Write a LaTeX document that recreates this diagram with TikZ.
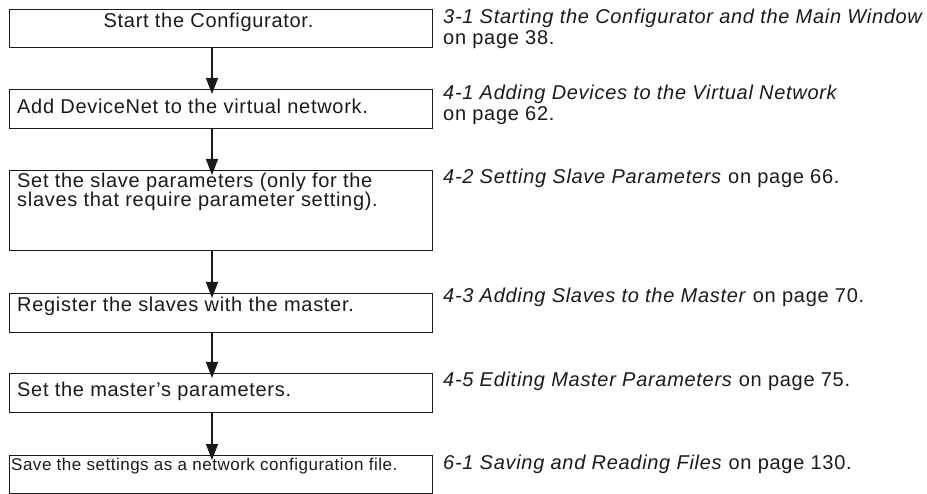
\documentclass[tikz,border=0pt]{standalone}
\usepackage{fontspec}
\setmainfont{Liberation Sans}[LetterSpace=3.5]
\usetikzlibrary{arrows.meta,positioning,calc}
\definecolor{inkblack}{HTML}{1A1A1A}
\tikzset{
  stepbox/.style={draw=inkblack, line width=1.3pt, minimum width=423pt,
    inner sep=0pt, anchor=north west},
  steptext/.style={anchor=base west, inner sep=0pt, align=left,
    font=\fontsize{20}{16}\selectfont, text=inkblack},
  reftext/.style={anchor=base west, inner sep=0pt, align=left,
    font=\fontsize{20}{21.5}\selectfont, text=inkblack},
  flow/.style={-{Triangle[length=16pt, width=12pt]}, line width=1.5pt,
    color=inkblack, shorten >=-5pt},
}

\begin{document}
\begin{tikzpicture}[x=1pt,y=-1pt]
  \useasboundingbox (0,0) rectangle (927,494);
  % the six steps, top edge / height
  \foreach \n/\yt/\h in {1/9/38, 2/89/39, 3/170/80, 4/293/39, 5/373/39, 6/455/38}
    \node[stepbox, minimum height=\h pt] (b\n) at (9,\yt) {};
  % texts inside the steps (base = last line)
  \node[steptext, anchor=base] (t1) at (208.5,28) {Start the Configurator.};
  \node[steptext] (t2) at (17,114) {Add DeviceNet to the virtual network.};
  \node[steptext] (t3) at (17,207) {Set the slave parameters (only for the\\slaves that require parameter setting).};
  \node[steptext] (t4) at (17,312) {Register the slaves with the master.};
  \node[steptext] (t5) at (17,397) {Set the master's parameters.};
  \node[steptext, font=\fontsize{17}{20}\selectfont\addfontfeature{LetterSpace=3}] (t6) at (11,471)
    {Save the settings as a network configuration file.};
  % arrows down the spine
  \coordinate (spine) at (212,0);
  \foreach \a/\b in {1/2, 2/3, 3/4, 4/5, 5/6}
    \draw[flow] (b\a.south -| spine) -- (b\b.north -| spine);
  % references, right column
  \node[reftext] (r1) at (443,45) {\textit{3-1 Starting the Configurator and the Main Window}\\on page 38.};
  \node[reftext] (r2) at (443,121) {\textit{4-1 Adding Devices to the Virtual Network}\\on page 62.};
  \node[reftext] (r3) at (443,184) {\textit{4-2 Setting Slave Parameters} on page 66.};
  \node[reftext] (r4) at (443,303) {\textit{4-3 Adding Slaves to the Master} on page 70.};
  \node[reftext] (r5) at (443,387) {\textit{4-5 Editing Master Parameters} on page 75.};
  \node[reftext] (r6) at (443,469) {\textit{6-1 Saving and Reading Files} on page 130.};
\end{tikzpicture}
\end{document}
